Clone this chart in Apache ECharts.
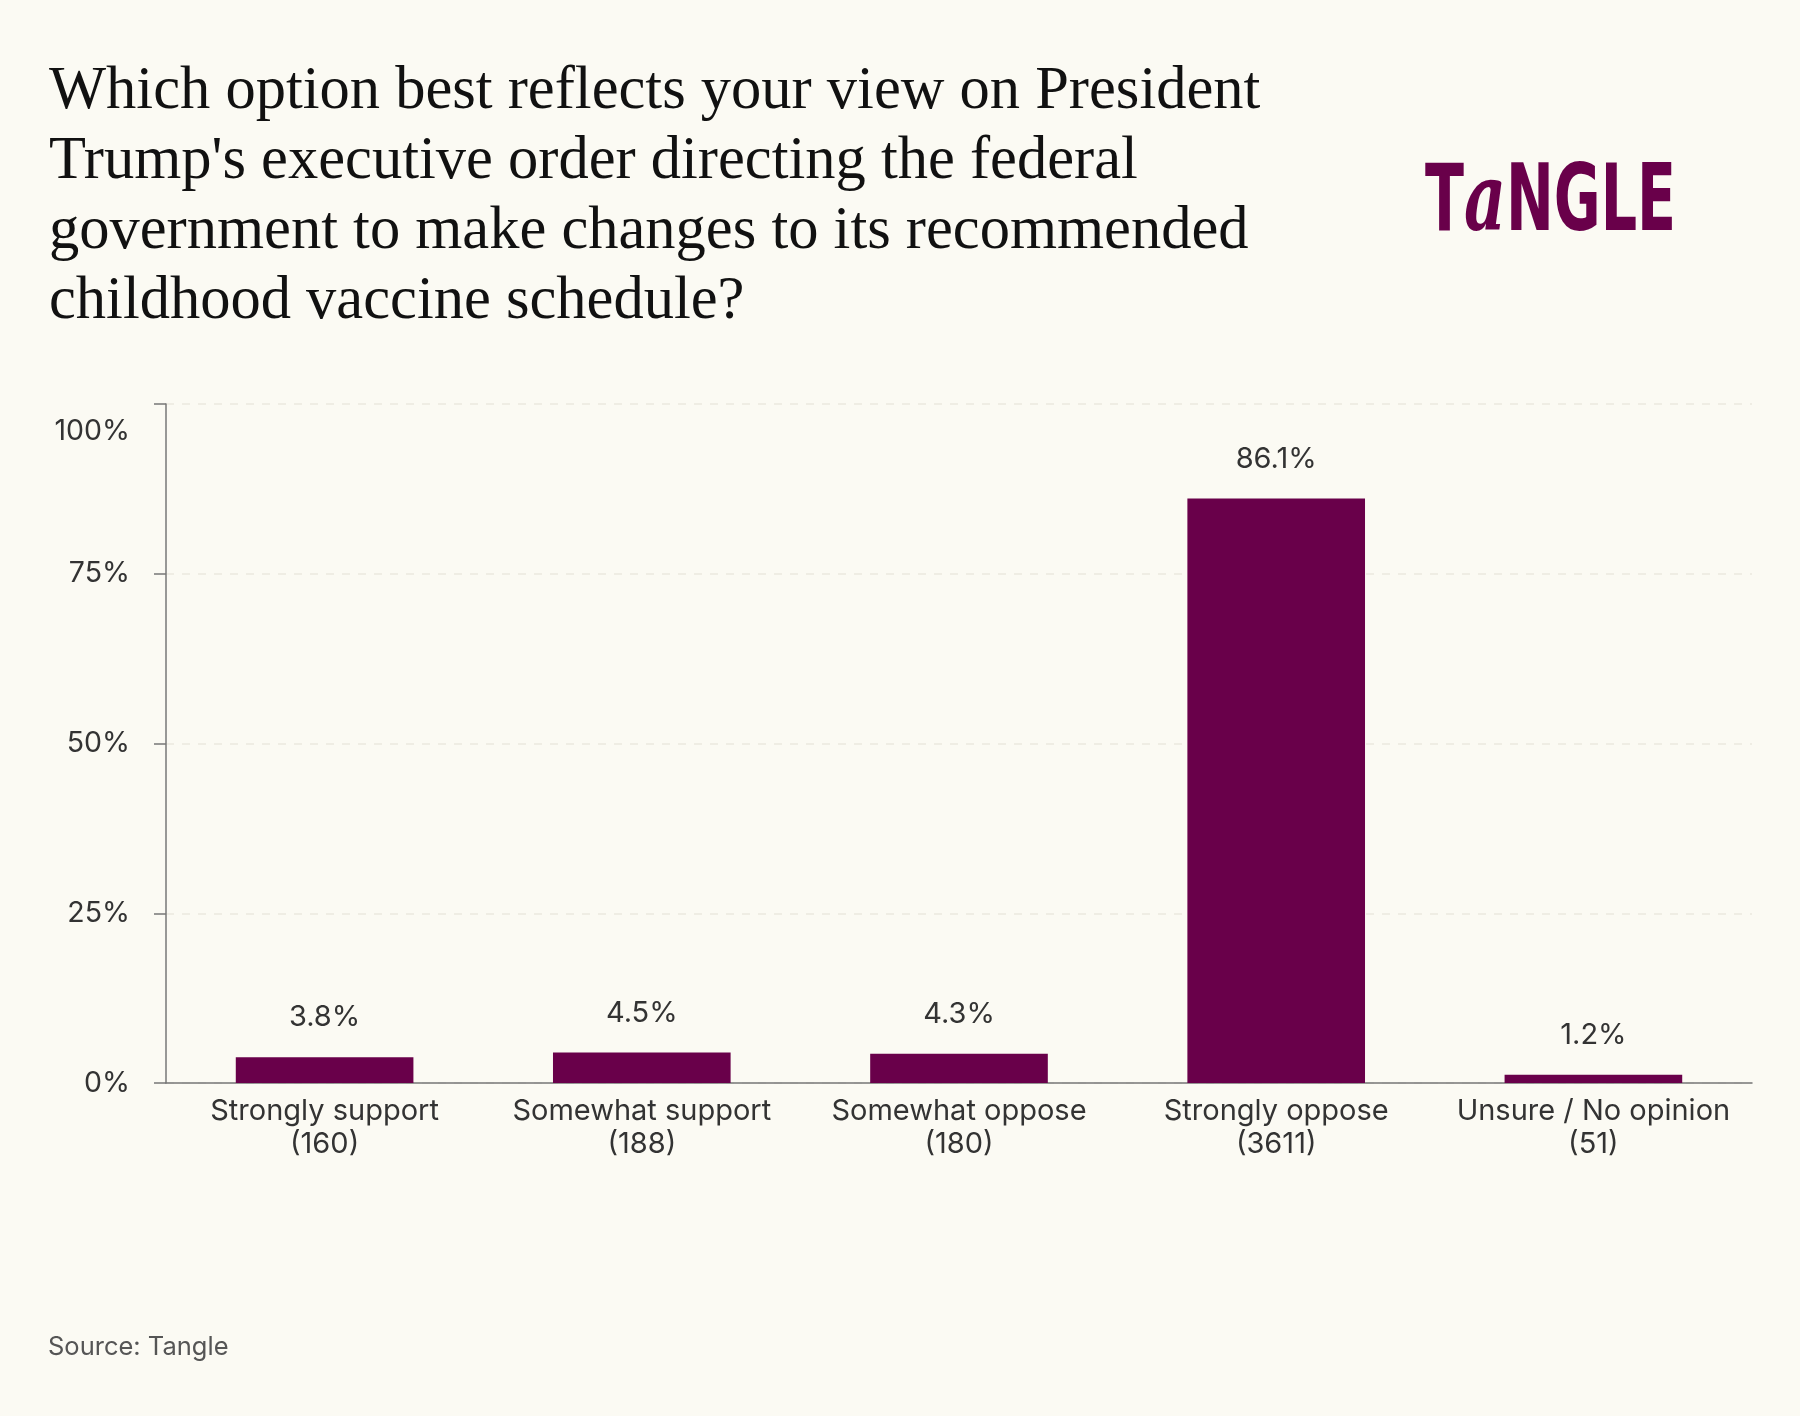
<!DOCTYPE html>
<html>
<head>
<meta charset="utf-8">
<title>Tangle poll</title>
<script src="https://cdn.jsdelivr.net/npm/echarts@6/dist/echarts.min.js"></script>
<style>
  html, body { margin: 0; padding: 0; background: #fbfaf3; }
  #chart { width: 1800px; height: 1416px; }
</style>
</head>
<body>
<div id="chart"></div>
<script>
const titleLines = [
  "Which option best reflects your view on President",
  "Trump's executive order directing the federal",
  "government to make changes to its recommended",
  "childhood vaccine schedule?"
];
const options = ["Strongly support", "Somewhat support", "Somewhat oppose", "Strongly oppose", "Unsure / No opinion"];
const counts = [160, 188, 180, 3611, 51];
const shares = [3.8, 4.5, 4.3, 86.1, 1.2];
const yTicks = [0, 25, 50, 75, 100];

const purple = "#69004a";
const sans = "Inter, 'Noto Sans', sans-serif";

const chart = echarts.init(document.getElementById("chart"));

const option = {
  backgroundColor: "#fbfaf3",
  animation: false,
  title: {
    text: titleLines.join("\n"),
    left: 44,
    top: 52,
    textStyle: {
      fontFamily: "'Liberation Serif', serif",
      fontWeight: "normal",
      fontSize: 60.5,
      lineHeight: 70,
      color: "#111"
    }
  },
  grid: { left: 166, right: 48, top: 404, bottom: 333 },
  xAxis: {
    type: "category",
    data: options.map((o, i) => o + "\n(" + counts[i] + ")"),
    axisLine: { lineStyle: { color: "#777", width: 1.5 } },
    axisTick: { alignWithLabel: true, length: 12, lineStyle: { color: "#777", width: 1.5 } },
    axisLabel: {
      interval: 0,
      color: "#333",
      fontFamily: sans,
      fontSize: 29,
      lineHeight: 33,
      margin: 12
    }
  },
  yAxis: {
    type: "value",
    min: yTicks[0],
    max: yTicks[yTicks.length - 1],
    interval: 25,
    axisLine: { show: true, lineStyle: { color: "#777", width: 1.5 } },
    axisTick: { show: true, length: 12, lineStyle: { color: "#777", width: 1.5 } },
    splitLine: { lineStyle: { color: "#ebe9df", type: [8, 8], width: 1.5 } },
    axisLabel: {
      color: "#333",
      fontFamily: sans,
      fontSize: 28.5,
      margin: 36,
      formatter: v => (v === 100 ? "{top|" + v + "%}" : v + "%"),
      rich: {
        top: { fontFamily: sans, fontSize: 28.5, color: "#333", padding: [54, 0, 0, 0] }
      }
    }
  },
  series: [
    {
      type: "bar",
      data: shares,
      barWidth: "56%",
      itemStyle: { color: purple },
      label: {
        show: true,
        position: "top",
        distance: 25,
        color: "#333",
        fontFamily: sans,
        fontSize: 29,
        formatter: p => p.value + "%"
      }
    }
  ],
  graphic: [
    {
      type: "text",
      x: 1425,
      y: 159,
      scaleX: 0.69,
      style: {
        text: "{t|T}{a|a}{t|NGLE}",
        fill: purple,
        rich: {
          t: { fontFamily: "'DejaVu Sans Condensed', 'DejaVu Sans'", fontWeight: "bold", fontSize: 92, fill: purple },
          a: { fontFamily: "'DejaVu Serif'", fontStyle: "italic", fontWeight: "bold", fontSize: 94, fill: purple }
        }
      }
    },
    {
      type: "text",
      left: 48,
      top: 1334,
      style: {
        text: "Source: Tangle",
        fill: "#555",
        fontFamily: sans,
        fontSize: 25.5
      }
    }
  ]
};

chart.setOption(option);
</script>
</body>
</html>
